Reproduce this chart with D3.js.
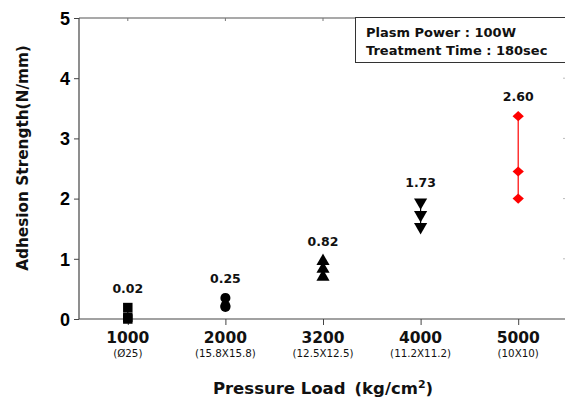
<!DOCTYPE html>
<html>
<head>
<meta charset="utf-8">
<script src="https://cdn.jsdelivr.net/npm/d3@7"></script>
<style>
  body { margin: 0; background: #fff; }
  svg { display: block; }
  .lbl { font-family: 'DejaVu Sans', Verdana, sans-serif; font-weight: bold; fill: #111; }
</style>
</head>
<body>
<div id="chart"></div>
<script>
const width = 565;
const height = 401;

// data
const loads = ["1000", "2000", "3200", "4000", "5000"];
const sizes = ["(\u00D825)", "(15.8X15.8)", "(12.5X12.5)", "(11.2X11.2)", "(10X10)"];
const values = [
    [0.19, 0.03, 0.0],
    [0.35, 0.22, 0.2],
    [0.96, 0.83, 0.70],
    [1.94, 1.73, 1.53],
    [3.37, 2.45, 2.00]
];
const labels = ["0.02", "0.25", "0.82", "1.73", "2.60"];
const shapes = ["square", "circle", "up", "down", "diamond"];
const colors = ["#000", "#000", "#000", "#000", "#ff0000"];
const yTicks = [0, 1, 2, 3, 4, 5];

const padLeft = 79, padRight = 567, padTop = 18, padBottom = 319;

let svg = d3.select("#chart").append("svg")
    .attr("width", width)
    .attr("height", height);

let xScale = d3.scalePoint()
    .domain(loads)
    .range([padLeft, padRight])
    .padding(0.5);

let yScale = d3.scaleLinear()
    .domain([0, 5])
    .range([padBottom, padTop]);

// frame: top and right
svg.append("line")
    .attr("x1", padLeft).attr("x2", width)
    .attr("y1", padTop).attr("y2", padTop)
    .attr("stroke", "#555").attr("stroke-width", 1.2);

svg.append("g")
    .selectAll("line")
    .data(loads)
    .join("line")
    .attr("x1", d => xScale(d)).attr("x2", d => xScale(d))
    .attr("y1", padTop).attr("y2", padTop + 3)
    .attr("stroke", "#777");

svg.append("g")
    .selectAll("line")
    .data(yTicks.slice(1, 5))
    .join("line")
    .attr("x1", width - 2).attr("x2", width)
    .attr("y1", d => yScale(d)).attr("y2", d => yScale(d))
    .attr("stroke", "#bbb");

// y axis
let yAxis = svg.append("g")
    .attr("transform", `translate(${padLeft},0)`)
    .call(d3.axisLeft(yScale).tickValues(yTicks).tickFormat(d3.format("d")).tickSize(5).tickPadding(4));
yAxis.select(".domain").attr("stroke", "#444").attr("stroke-width", 1.2).attr("d", `M0,${padTop}V${padBottom}`);
yAxis.selectAll(".tick line").attr("stroke", "#444");
yAxis.selectAll(".tick text")
    .attr("fill", "#000")
    .style("font-family", "'Liberation Sans', Arial, sans-serif")
    .style("font-weight", "bold")
    .style("font-size", "18px")
    .attr("dy", "0.35em");

// x axis
let xAxis = svg.append("g")
    .attr("transform", `translate(0,${padBottom})`)
    .call(d3.axisBottom(xScale).tickSize(6).tickFormat(""));
xAxis.select(".domain").attr("stroke", "#444").attr("stroke-width", 1.2).attr("d", `M${padLeft},0H${width}`);
xAxis.selectAll(".tick line").attr("stroke", "#444");

svg.append("g")
    .selectAll("text")
    .data(loads)
    .join("text")
    .attr("class", "lbl")
    .attr("x", d => xScale(d))
    .attr("y", 343)
    .attr("text-anchor", "middle")
    .style("font-size", "15.5px")
    .text(d => d);

svg.append("g")
    .selectAll("text")
    .data(sizes)
    .join("text")
    .attr("x", (d, i) => xScale(loads[i]))
    .attr("y", 357)
    .attr("text-anchor", "middle")
    .style("font-family", "'DejaVu Sans', Verdana, sans-serif")
    .style("font-size", "10.3px")
    .attr("fill", "#111")
    .text(d => d);

// axis titles
let xTitle = svg.append("text")
    .attr("class", "lbl")
    .attr("x", 323)
    .attr("y", 394)
    .attr("text-anchor", "middle")
    .style("font-size", "16.5px");
xTitle.append("tspan").text("Pressure Load");
xTitle.append("tspan").attr("dx", 9).text("(kg/cm");
xTitle.append("tspan").attr("dy", -6).style("font-size", "11px").text("2");
xTitle.append("tspan").attr("dy", 6).text(")");

svg.append("text")
    .attr("class", "lbl")
    .attr("transform", "translate(28,158) rotate(-90)")
    .attr("text-anchor", "middle")
    .style("font-size", "15.3px")
    .text("Adhesion Strength(N/mm)");

// legend box
svg.append("rect")
    .attr("x", 355.5).attr("y", 17.5)
    .attr("width", 215).attr("height", 45)
    .attr("fill", "#fff")
    .attr("stroke", "#333").attr("stroke-width", 1);

svg.append("text")
    .attr("class", "lbl")
    .attr("x", 366).attr("y", 37)
    .style("font-size", "13px")
    .text("Plasm Power : 100W");
svg.append("text")
    .attr("class", "lbl")
    .attr("x", 366).attr("y", 55)
    .style("font-size", "13px")
    .text("Treatment Time : 180sec");

// groups
let groups = svg.append("g")
    .selectAll("g")
    .data(loads)
    .join("g")
    .attr("transform", d => `translate(${xScale(d)},0)`);

groups.append("line")
    .attr("y1", (d, i) => yScale(d3.max(values[i])))
    .attr("y2", (d, i) => yScale(d3.min(values[i])))
    .attr("stroke", (d, i) => colors[i])
    .attr("stroke-width", 1.2);

const symbolOf = {
    square: [d3.symbolSquare, 90, ""],
    circle: [d3.symbolCircle, 80, ""],
    up: [d3.symbolTriangle, 75, ""],
    down: [d3.symbolTriangle, 75, " rotate(180)"],
    diamond: [d3.symbolSquare, 64, " scale(1,0.9) rotate(45)"]
};

groups.each(function(d, i) {
    let [sym, size, extra] = symbolOf[shapes[i]];
    d3.select(this).selectAll("path.pt")
        .data(values[i])
        .join("path")
        .attr("class", "pt")
        .attr("d", d3.symbol().type(sym).size(size))
        .attr("transform", v => `translate(0,${yScale(v)})` + extra)
        .attr("fill", colors[i]);
});

groups.append("text")
    .attr("class", "lbl")
    .attr("y", (d, i) => yScale(d3.max(values[i])) - 15)
    .attr("text-anchor", "middle")
    .style("font-size", "12.5px")
    .text((d, i) => labels[i]);
</script>
</body>
</html>
